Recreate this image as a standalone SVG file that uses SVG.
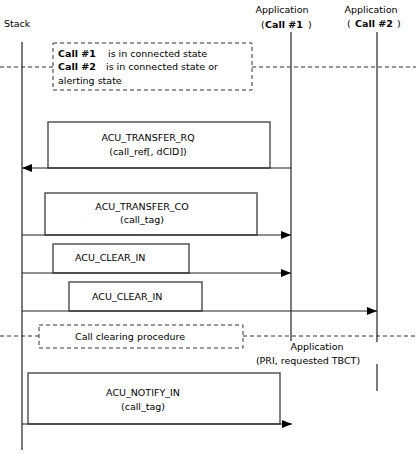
<svg xmlns="http://www.w3.org/2000/svg" width="416" height="455" viewBox="0 0 416 455">
<style>
text{font-family:"DejaVu Sans","Liberation Sans",sans-serif;font-size:9.5px;fill:#000}
.b{font-weight:bold}
.life{stroke:#222;stroke-width:1.2;fill:none}
.dash{stroke:#333;stroke-width:1;stroke-dasharray:4,3;fill:none}
.box{fill:#fff;stroke:#555;stroke-width:1.5}
.msg{stroke:#222;stroke-width:1.2;fill:none}
.mid{text-anchor:middle}
</style>
<defs>
<marker id="ah" viewBox="0 0 10 10" refX="10" refY="5" markerWidth="10" markerHeight="10" markerUnits="userSpaceOnUse" orient="auto">
<path d="M0,1 L10,5 L0,9 Z" fill="#000"/>
</marker>
</defs>
<g id="stack">
<text x="4" y="27">Stack</text>
<line class="life" x1="22" y1="42" x2="22" y2="450"/>
</g>
<g id="app1">
<text class="mid" x="282" y="13">Application</text>
<text x="261" y="28">(</text>
<text class="b" x="265" y="28">Call #1</text>
<text x="308" y="28">)</text>
<line class="life" x1="291" y1="32" x2="291" y2="341"/>
</g>
<g id="app2">
<text class="mid" x="371" y="13">Application</text>
<text x="347" y="27">(</text>
<text class="b" x="355" y="27">Call #2</text>
<text x="397" y="27">)</text>
<line class="life" x1="377" y1="32" x2="377" y2="342"/>
<line class="life" x1="377" y1="364" x2="377" y2="391"/>
</g>
<g id="state-note">
<line class="dash" x1="0" y1="67" x2="53" y2="67"/>
<line class="dash" x1="252" y1="67" x2="416" y2="67"/>
<rect class="dash" x="53" y="43" width="199" height="47"/>
<text class="b" x="58" y="57">Call #1</text>
<text x="108" y="57">is in connected state</text>
<text class="b" x="58" y="70">Call #2</text>
<text x="106" y="70">is in connected state or</text>
<text x="58" y="84">alerting state</text>
</g>
<g id="transfer-rq">
<rect class="box" x="48" y="122" width="222" height="46"/>
<text class="mid" x="148" y="141">ACU_TRANSFER_RQ</text>
<text class="mid" x="148" y="155">(call_ref[, dCID])</text>
</g>
<g id="transfer-co">
<rect class="box" x="45" y="193" width="212" height="42"/>
<text class="mid" x="142" y="210">ACU_TRANSFER_CO</text>
<text class="mid" x="142" y="223">(call_tag)</text>
</g>
<g id="clear-in-1">
<rect class="box" x="53" y="244" width="136" height="29"/>
<text x="75" y="261">ACU_CLEAR_IN</text>
</g>
<g id="clear-in-2">
<rect class="box" x="69" y="282" width="133" height="29"/>
<text x="92" y="300">ACU_CLEAR_IN</text>
</g>
<g id="clearing">
<line class="dash" x1="0" y1="336" x2="39" y2="336"/>
<line class="dash" x1="243" y1="336" x2="416" y2="336"/>
<rect class="dash" x="39" y="325" width="204" height="23"/>
<text x="75" y="340">Call clearing procedure</text>
<text class="mid" x="317" y="350">Application</text>
<text class="mid" x="308" y="364">(PRI, requested TBCT)</text>
</g>
<g id="notify-in">
<rect class="box" x="28" y="373" width="252" height="51"/>
<text class="mid" x="143" y="396">ACU_NOTIFY_IN</text>
<text class="mid" x="143" y="410">(call_tag)</text>
</g>
<g id="connectors">
<line class="msg" x1="291" y1="168" x2="22" y2="168" marker-end="url(#ah)"/>
<line class="msg" x1="22" y1="235" x2="291" y2="235" marker-end="url(#ah)"/>
<line class="msg" x1="22" y1="273" x2="291" y2="273" marker-end="url(#ah)"/>
<line class="msg" x1="22" y1="311" x2="377" y2="311" marker-end="url(#ah)"/>
<line class="msg" x1="22" y1="424" x2="292" y2="424" marker-end="url(#ah)"/>
</g>
</svg>
